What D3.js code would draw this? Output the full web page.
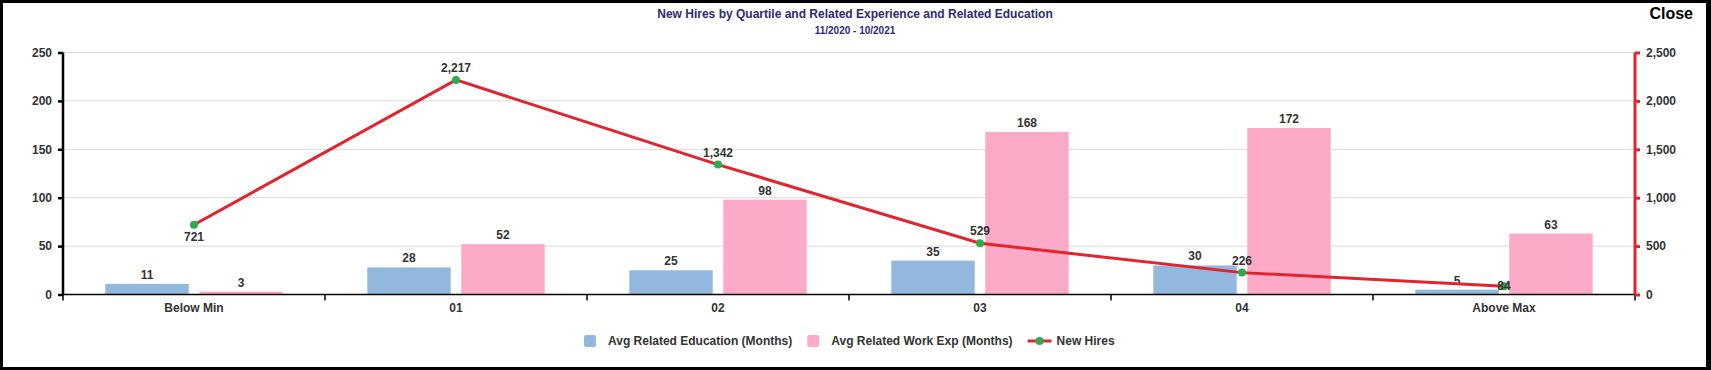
<!DOCTYPE html>
<html>
<head>
<meta charset="utf-8">
<script src="https://cdn.jsdelivr.net/npm/d3@7"></script>
<style>
  html, body { margin: 0; padding: 0; background: #fff; }
  svg { display: block; font-family: "Liberation Sans", Arial, sans-serif; }
</style>
</head>
<body>
<svg id="chart" width="1711" height="370"></svg>
<script>
const categories = ["Below Min", "01", "02", "03", "04", "Above Max"];
const avgEducation = [11, 28, 25, 35, 30, 5];
const avgWorkExp = [3, 52, 98, 168, 172, 63];
const newHires = [721, 2217, 1342, 529, 226, 84];
const hireLabelSide = ["below", "above", "above", "above", "above", "center"];
const leftTicks = [0, 50, 100, 150, 200, 250];
const rightTicks = [0, 500, 1000, 1500, 2000, 2500];
const barSeries = ["Avg Related Education (Months)", "Avg Related Work Exp (Months)"];
const lineSeries = "New Hires";

const W = 1711, H = 370;
const margin = { top: 52.5, bottom: 75.5, left: 63, right: 76 };
const blue = "#92b9dd", pink = "#fdaac8", red = "#e0252e", green = "#2eab4c";
const textColor = "#333";

const svg = d3.select("#chart");

const x = d3.scaleBand().domain(categories).range([margin.left, W - margin.right]);
const xInner = d3.scaleBand().domain(barSeries).range([0, x.bandwidth()])
  .paddingInner(0.112).paddingOuter(0.45);
const yLeft = d3.scaleLinear().domain([0, 250]).range([H - margin.bottom, margin.top]);
const yRight = d3.scaleLinear().domain([0, 2500]).range([H - margin.bottom, margin.top]);

// gridlines
svg.append("g")
  .selectAll("line")
  .data(leftTicks.slice(1))
  .enter()
  .append("line")
  .attr("x1", margin.left)
  .attr("x2", W - margin.right)
  .attr("y1", d => yLeft(d))
  .attr("y2", d => yLeft(d))
  .attr("stroke", "#d9d9d9")
  .attr("stroke-width", 1);

// bars
const rows = categories.map((c, i) => ({ cat: c, vals: [avgEducation[i], avgWorkExp[i]] }));
const groups = svg.append("g")
  .selectAll("g")
  .data(rows)
  .enter()
  .append("g")
  .attr("transform", d => `translate(${x(d.cat)},0)`);

groups.selectAll("rect")
  .data(d => d.vals.map((v, k) => ({ s: barSeries[k], v, k })))
  .enter()
  .append("rect")
  .attr("x", d => xInner(d.s))
  .attr("width", xInner.bandwidth())
  .attr("y", d => yLeft(d.v))
  .attr("height", d => yLeft(0) - yLeft(d.v))
  .attr("fill", d => d.k === 0 ? blue : pink);

groups.selectAll("text")
  .data(d => d.vals.map((v, k) => ({ s: barSeries[k], v })))
  .enter()
  .append("text")
  .attr("x", d => xInner(d.s) + xInner.bandwidth() / 2)
  .attr("y", d => yLeft(d.v) - 5)
  .attr("text-anchor", "middle")
  .attr("font-size", "12px")
  .attr("font-weight", "bold")
  .attr("fill", textColor)
  .text(d => d.v);

// x axis
const xAxis = svg.append("g").attr("transform", `translate(0,${yLeft(0)})`);
xAxis.append("line")
  .attr("x1", margin.left).attr("x2", W - margin.right)
  .attr("stroke", "#000").attr("stroke-width", 1.5);
const bounds = categories.map(c => x(c)).concat([W - margin.right]);
xAxis.selectAll(".tk")
  .data(bounds)
  .enter()
  .append("line")
  .attr("x1", d => d).attr("x2", d => d)
  .attr("y1", 0).attr("y2", 6)
  .attr("stroke", "#000").attr("stroke-width", 1.5);
xAxis.selectAll("text")
  .data(categories)
  .enter()
  .append("text")
  .attr("x", d => x(d) + x.bandwidth() / 2)
  .attr("y", 17)
  .attr("text-anchor", "middle")
  .attr("font-size", "12px")
  .attr("font-weight", "bold")
  .attr("fill", textColor)
  .text(d => d);

// left axis
const leftAxis = svg.append("g")
  .attr("transform", `translate(${margin.left},0)`)
  .call(d3.axisLeft(yLeft).tickValues(leftTicks).tickSize(5).tickPadding(6));
leftAxis.select(".domain").attr("stroke", "#000").attr("stroke-width", 2.5).attr("d", `M0,${yLeft(250)}V${yLeft(0)}`);
leftAxis.selectAll(".tick line").attr("stroke", "#000").attr("stroke-width", 2.5);
leftAxis.selectAll(".tick text")
  .attr("font-size", "12px").attr("font-weight", "bold").attr("fill", textColor)
  .attr("font-family", "Liberation Sans, Arial, sans-serif");

// right axis
const rightAxis = svg.append("g")
  .attr("transform", `translate(${W - margin.right},0)`)
  .call(d3.axisRight(yRight).tickValues(rightTicks).tickSize(5).tickPadding(6).tickFormat(d3.format(",")));
rightAxis.select(".domain").attr("stroke", red).attr("stroke-width", 3).attr("d", `M0,${yRight(2500)}V${yRight(0)}`);
rightAxis.selectAll(".tick line").attr("stroke", red).attr("stroke-width", 3);
rightAxis.selectAll(".tick text")
  .attr("font-size", "12px").attr("font-weight", "bold").attr("fill", textColor)
  .attr("font-family", "Liberation Sans, Arial, sans-serif");

// new hires line
const pts = categories.map((c, i) => ({ x: x(c) + x.bandwidth() / 2, y: yRight(newHires[i]), v: newHires[i], side: hireLabelSide[i] }));
svg.append("path")
  .datum(pts)
  .attr("d", d3.line().x(d => d.x).y(d => d.y))
  .attr("fill", "none")
  .attr("stroke", red)
  .attr("stroke-width", 3);
svg.append("g")
  .selectAll("circle")
  .data(pts)
  .enter()
  .append("circle")
  .attr("cx", d => d.x).attr("cy", d => d.y).attr("r", 4)
  .attr("fill", green);
svg.append("g")
  .selectAll("text")
  .data(pts)
  .enter()
  .append("text")
  .attr("x", d => d.x)
  .attr("y", d => d.side === "below" ? d.y + 16 : d.side === "center" ? d.y + 4 : d.y - 8)
  .attr("text-anchor", "middle")
  .attr("font-size", "12px")
  .attr("font-weight", "bold")
  .attr("fill", textColor)
  .text(d => d3.format(",")(d.v));

// title
svg.append("text")
  .attr("x", 855).attr("y", 18)
  .attr("text-anchor", "middle")
  .attr("font-size", "12px").attr("font-weight", "bold")
  .attr("fill", "#2d2b73")
  .text("New Hires by Quartile and Related Experience and Related Education");
svg.append("text")
  .attr("x", 855).attr("y", 34)
  .attr("text-anchor", "middle")
  .attr("font-size", "10px").attr("font-weight", "bold")
  .attr("fill", "#2d2b73")
  .text("11/2020 - 10/2021");
svg.append("text")
  .attr("x", 1693).attr("y", 19)
  .attr("text-anchor", "end")
  .attr("font-size", "16px").attr("font-weight", "bold")
  .attr("fill", "#000")
  .text("Close");

// legend
const legend = svg.append("g").attr("transform", "translate(0,341)");
const legendItems = [
  { name: barSeries[0], type: "bar", color: blue },
  { name: barSeries[1], type: "bar", color: pink },
  { name: lineSeries, type: "line", color: red }
];
let lx = 584;
legendItems.forEach(item => {
  const g = legend.append("g").attr("transform", `translate(${lx},0)`);
  let off;
  if (item.type === "bar") {
    g.append("rect").attr("x", 0).attr("y", -6).attr("width", 12).attr("height", 12)
      .attr("rx", 2).attr("fill", item.color);
    off = 24;
  } else {
    g.append("line").attr("x1", 0).attr("x2", 24).attr("y1", 0).attr("y2", 0)
      .attr("stroke", item.color).attr("stroke-width", 3);
    g.append("circle").attr("cx", 12).attr("cy", 0).attr("r", 4).attr("fill", green);
    off = 29;
  }
  const t = g.append("text").attr("x", off).attr("y", 4)
    .attr("font-size", "12px").attr("font-weight", "bold").attr("fill", textColor)
    .text(item.name);
  lx += off + t.node().getComputedTextLength() + 15;
});

// frame
svg.append("rect")
  .attr("x", 1.5).attr("y", 1.5).attr("width", W - 4).attr("height", H - 3)
  .attr("fill", "none").attr("stroke", "#000").attr("stroke-width", 3);
svg.append("rect")
  .attr("x", W - 5).attr("y", 0).attr("width", 5).attr("height", H)
  .attr("fill", "#000");
</script>
</body>
</html>
